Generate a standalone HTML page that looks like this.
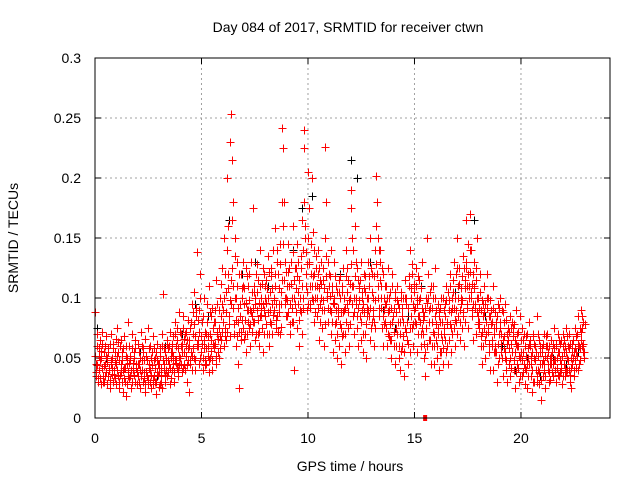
<!DOCTYPE html>
<html><head><meta charset="utf-8">
<style>
html,body{margin:0;padding:0;background:#fff;}
svg{display:block;font-family:"Liberation Sans",sans-serif;}
</style></head>
<body>
<svg id="chart" width="640" height="480" viewBox="0 0 640 480" xmlns="http://www.w3.org/2000/svg">
<rect width="640" height="480" fill="#fff"/>
<text x="348" y="32" font-size="14" text-anchor="middle" fill="#000">Day 084 of 2017, SRMTID for receiver ctwn</text>
<text x="350" y="471" font-size="14" text-anchor="middle" fill="#000">GPS time / hours</text>
<text x="18" y="238" font-size="14" text-anchor="middle" fill="#000" transform="rotate(-90 18 238)">SRMTID / TECUs</text>
<g id="grid"></g>
<g id="ticks"></g>
<g id="black"></g>
<g id="red"></g>
<rect x="95" y="58" width="515" height="360" fill="none" stroke="#000" stroke-width="1"/>
</svg>
<script>
const xTicks=[0,5,10,15,20];
const yTicks=[0,0.05,0.1,0.15,0.2,0.25,0.3];
const yTickLabels=["0","0.05","0.1","0.15","0.2","0.25","0.3"];
const binWidth=0.2;
const redBinTimes=[0,0.2,0.4,0.6,0.8,1,1.2,1.4,1.6,1.8,2,2.2,2.4,2.6,2.8,3,3.2,3.4,3.6,3.8,4,4.2,4.4,4.6,4.8,5,5.2,5.4,5.6,5.8,6,6.2,6.4,6.6,6.8,7,7.2,7.4,7.6,7.8,8,8.2,8.4,8.6,8.8,9,9.2,9.4,9.6,9.8,10,10.2,10.4,10.6,10.8,11,11.2,11.4,11.6,11.8,12,12.2,12.4,12.6,12.8,13,13.2,13.4,13.6,13.8,14,14.2,14.4,14.6,14.8,15,15.2,15.4,15.6,15.8,16,16.2,16.4,16.6,16.8,17,17.2,17.4,17.6,17.8,18,18.2,18.4,18.6,18.8,19,19.2,19.4,19.6,19.8,20,20.2,20.4,20.6,20.8,21,21.2,21.4,21.6,21.8,22,22.2,22.4,22.6,22.8];
// values in milli-TECU per bin (first pass)
const redBinValues=[
[88,45,35,60,30,52],[40,65,28,50,72,35],[55,30,45,68,38,50],[35,58,42,25,70,48],[50,30,62,40,55,28],
[45,75,35,55,25,60],[38,65,48,22,58,42],[30,52,18,45,80,38],[60,35,48,25,70,42],[40,55,30,65,45,28],
[35,62,45,25,50,72],[48,30,58,38,66,22],[52,35,75,28,45,60],[40,25,55,68,32,48],[30,50,20,62,38,45],
[45,28,58,35,70,25],[103,40,55,30,48,65],[35,58,45,72,28,50],[55,40,68,30,48,80],[60,42,75,35,52,88],
[50,70,38,62,85,45],[55,40,72,30,65,48],[22,60,45,80,52,95],[70,50,105,40,85,60],[138,65,90,45,120,55],
[55,80,40,100,65,48],[70,45,95,60,110,38],[50,85,65,40,75,58],[60,90,45,115,70,55],[75,50,100,65,85,125],
[90,60,150,75,105,65],[200,160,120,85,230,95],[253,215,180,110,70,135],[100,60,130,80,45,25],[85,120,65,100,75,110],
[95,70,125,55,90,80],[110,75,90,60,130,85],[175,80,105,65,95,120],[90,70,115,60,140,85],[100,75,125,55,90,110],
[85,115,70,100,135,60],[105,80,125,95,70,140],[90,158,110,75,130,85],[120,95,145,70,105,180],[242,225,180,100,130,85],
[110,85,145,125,70,95],[130,100,80,160,115,40],[95,125,75,145,105,60],[115,90,135,70,165,100],[240,225,150,120,90,105],
[205,175,130,95,145,110],[200,155,120,80,100,135],[110,85,140,65,125,95],[100,130,75,115,60,90],[226,180,135,105,80,120],
[120,90,140,70,105,55],[95,130,65,110,80,50],[85,115,60,100,75,45],[105,70,125,90,55,80],[140,95,75,115,60,100],
[190,175,150,110,85,70],[160,130,95,75,115,60],[110,85,130,65,100,55],[95,120,70,105,50,85],[130,90,110,65,150,75],
[120,85,100,60,140,75],[202,180,150,110,85,130],[140,100,75,120,60,90],[110,80,95,60,125,70],[90,65,105,50,80,120],
[85,60,100,45,75,110],[70,95,50,80,40,105],[85,60,100,35,75,115],[95,65,80,45,110,55],[140,100,75,120,60,90],
[105,80,125,55,95,70],[115,85,100,60,130,75],[70,50,85,35,100,60],[150,120,90,65,105,45],[80,60,100,45,70,125],
[65,90,50,75,40,85],[80,55,100,65,45,90],[70,95,55,110,80,45],[90,65,120,75,55,100],[105,75,130,60,90,80],
[150,110,85,125,65,95],[100,75,135,85,60,115],[165,125,95,145,75,110],[170,140,105,85,120,65],[130,95,115,70,150,85],
[100,75,120,60,90,45],[85,60,110,50,95,70],[120,75,100,55,85,40],[90,65,110,40,75,55],[60,80,30,95,45,70],
[100,75,55,90,35,65],[80,50,95,40,70,30],[65,45,85,35,75,55],[55,75,40,65,25,90],[70,45,60,30,85,50],
[55,75,35,65,45,28],[60,40,70,25,50,80],[45,65,35,55,22,70],[50,30,60,40,85,35],[40,65,28,55,15,45],
[55,35,70,45,25,60],[50,70,40,60,30,45],[65,45,55,35,75,48],[40,60,30,50,70,35],[55,38,65,45,28,60],
[45,65,35,55,75,40],[60,40,70,30,50,25],[45,65,55,35,75,42],[55,70,40,85,60,48],[90,65,75,55,80,50]];
// second pass of readings per bin (milli-TECU)
const redBinValues2=[
[52,38,70,44,33,58],[48,33,56,42,62,30],[43,60,35,52,28,47],[55,40,32,62,45,37],[42,58,36,47,33,66],
[52,40,63,30,48,36],[45,30,55,40,68,33],[42,60,28,50,35,46],[33,52,40,58,30,46],[50,36,58,42,28,38],
[45,30,55,40,35,60],[40,55,33,48,28,52],[38,48,32,58,42,30],[50,36,44,28,58,35],[42,55,30,48,36,26],
[38,52,42,30,60,48],[45,58,36,50,40,62],[48,38,60,42,55,33],[62,45,52,38,70,46],[48,65,40,58,44,72],
[60,45,55,75,42,66],[70,52,60,44,82,58],[65,48,75,55,40,88],[58,78,48,68,92,62],[82,60,72,100,50,68],
[62,50,85,58,72,44],[58,80,52,68,48,88],[70,56,92,48,62,80],[80,62,52,72,95,66],[90,68,58,112,72,95],
[80,100,68,120,88,72],[140,108,78,98,68,115],[165,125,92,78,150,100],[82,110,68,92,120,72],[95,72,108,82,130,66],
[108,82,96,70,118,90],[98,120,78,88,105,72],[92,110,80,100,70,128],[105,82,96,72,110,92],[86,112,95,70,120,100],
[96,78,108,88,122,70],[90,118,78,108,86,98],[100,120,82,95,140,72],[108,88,128,95,76,115],[160,145,115,95,122,100],
[98,122,88,110,78,130],[112,92,138,80,100,125],[108,88,118,95,130,82],[100,125,88,110,140,92],[180,160,138,110,128,95],
[150,128,110,92,120,100],[118,98,140,88,110,125],[100,120,92,108,80,115],[112,90,125,98,108,78],[150,118,100,130,92,110],
[102,118,88,110,80,96],[100,78,118,90,105,70],[92,105,78,118,88,68],[110,88,100,70,92,118],[105,125,88,98,78,112],
[128,110,95,140,100,88],[118,100,85,125,92,108],[98,115,80,105,90,70],[108,88,118,78,100,92],[100,118,85,92,125,80],
[105,90,118,80,98,128],[160,120,100,140,92,115],[110,92,125,85,100,78],[95,110,75,100,88,68],[100,78,92,65,110,85],
[92,72,105,60,88,98],[80,60,92,70,100,56],[92,68,80,55,100,72],[100,80,92,62,118,75],[108,85,128,95,78,112],
[92,110,78,100,85,118],[98,80,108,70,92,88],[82,62,92,55,75,96],[120,100,80,92,65,110],[92,72,110,60,85,100],
[78,60,95,70,88,55],[92,70,80,58,100,75],[85,65,98,78,60,105],[98,78,110,88,70,92],[115,92,100,82,120,70],
[125,100,112,90,80,108],[118,98,88,125,108,80],[130,110,92,120,100,140],[122,100,90,112,95,108],[110,92,125,88,100,78],
[92,80,105,68,98,72],[95,75,88,65,80,100],[92,72,85,62,98,78],[80,60,92,70,55,88],[75,55,85,62,50,92],
[80,62,70,50,88,58],[68,55,82,48,62,75],[58,72,50,62,42,80],[68,48,78,55,38,62],[60,42,72,52,35,65],
[65,48,55,38,70,42],[52,68,45,58,35,62],[60,45,52,40,68,30],[62,48,40,55,30,70],[52,38,60,45,32,58],
[48,62,40,52,35,68],[60,45,55,38,50,32],[52,38,62,45,58,40],[48,62,42,55,36,65],[62,48,40,52,35,70],
[55,42,60,38,50,68],[48,58,36,62,42,55],[62,50,40,58,48,68],[70,52,62,45,75,58],[72,60,85,62,55,78]];
const blackTimes=[0.1,0.5,1.3,2.1,2.9,3.3,4.1,4.7,5.3,6.3,6.9,7.5,8.1,8.8,9.3,9.7,10.2,10.9,11.5,12.0,12.3,12.9,13.5,14.1,14.7,15.3,16.1,16.9,17.5,17.8,18.3,19.1,19.7,20.3,20.9,21.5,22.1,22.7];
const blackValues=[0.075,0.05,0.04,0.055,0.035,0.06,0.07,0.095,0.085,0.165,0.12,0.13,0.11,0.242,0.14,0.175,0.185,0.105,0.12,0.215,0.2,0.13,0.09,0.075,0.085,0.11,0.07,0.105,0.145,0.165,0.085,0.06,0.04,0.05,0.035,0.05,0.045,0.055];
const markerTimes=[15.5];
const markerValues=[0];

const X0=95,X1=610,Y0=418,Y1=58,XMAX=24.18,YMAX=0.3;
const sx=t=>X0+t/XMAX*(X1-X0);
const sy=v=>Y0-v/YMAX*(Y0-Y1);
const NS="http://www.w3.org/2000/svg";
function mk(tag,attrs,parent){const e=document.createElementNS(NS,tag);for(const k in attrs)e.setAttribute(k,attrs[k]);parent.appendChild(e);return e;}
const grid=document.getElementById('grid'),ticks=document.getElementById('ticks');
xTicks.forEach(t=>{
  const x=sx(t);
  if(t>0){const g=mk('line',{x1:x,x2:x,y1:Y1,y2:Y0,stroke:'#a0a0a0','stroke-dasharray':'2,3'},grid);
  
  }
  mk('line',{x1:x,x2:x,y1:Y0,y2:Y0-6,stroke:'#000'},ticks);
  mk('line',{x1:x,x2:x,y1:Y1,y2:Y1+6,stroke:'#000'},ticks);
  const l=mk('text',{x:x,y:443,'font-size':14,'text-anchor':'middle'},ticks);l.textContent=String(t);
  
  
});
yTicks.forEach((v,i)=>{
  const y=sy(v);
  if(v>0&&v<YMAX){const g=mk('line',{x1:X0,x2:X1,y1:y,y2:y,stroke:'#a0a0a0','stroke-dasharray':'2,3'},grid);
  
  }
  mk('line',{x1:X0,x2:X0+6,y1:y,y2:y,stroke:'#000'},ticks);
  mk('line',{x1:X1,x2:X1-6,y1:y,y2:y,stroke:'#000'},ticks);
  const l=mk('text',{x:81,y:y+5,'font-size':14,'text-anchor':'end'},ticks);l.textContent=yTickLabels[i];
  
  
});
function plus(g,t,v,color){
  const x=Math.round(sx(t))+0.5,y=Math.round(sy(v))+0.5;
  const p=mk('path',{d:`M${x-4},${y}H${x+4}M${x},${y-4}V${y+4}`,stroke:color,'stroke-width':1,fill:'none'},g);
  
  
}
const bg=document.getElementById('black');
blackTimes.forEach((t,i)=>plus(bg,t,blackValues[i],'#000'));
const rg=document.getElementById('red');
[redBinValues,redBinValues2].forEach((set,k)=>{
  redBinTimes.forEach((t,i)=>{
    const vals=set[i];
    vals.forEach((m,j)=>plus(rg,t+(j+k*0.5)*binWidth/vals.length,m/1000,'#ff0000'));
  });
});
markerTimes.forEach((t,i)=>{
  const r=mk('rect',{x:sx(t)-2,y:sy(markerValues[i])-3,width:4,height:6,fill:'#ff0000'},rg);
  
  
});
</script>
</body></html>
